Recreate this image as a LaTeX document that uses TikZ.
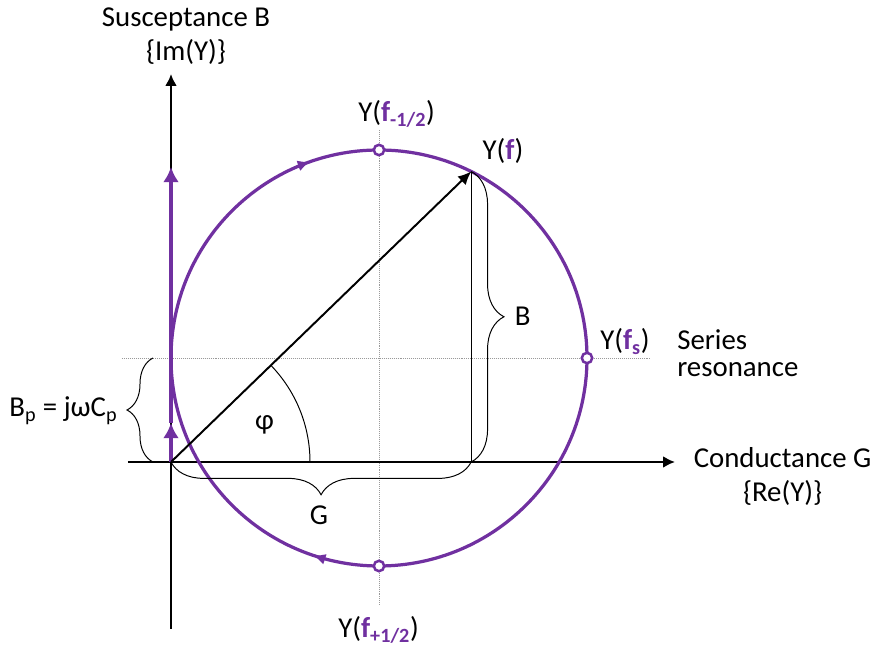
\documentclass[tikz,border=0pt]{standalone}
\usepackage{fontspec}
\setmainfont{Carlito}
\usetikzlibrary{positioning, calc, arrows.meta, decorations.pathreplacing, decorations.markings}
\definecolor{vio}{RGB}{112,48,160}

\begin{document}
\begin{tikzpicture}[
    >=Latex,
    font=\fontsize{20.5}{24.5}\selectfont,
    every node/.style={align=center, inner sep=0pt},
    axis line/.style={line width=1.6pt, -{Latex[length=0.3cm, width=0.3cm]}},
    vio line/.style={vio, line width=2.3pt},
    vio tip/.style={-{Latex[length=0.38cm, width=0.4cm]}},
    thin line/.style={line width=0.7pt},
    guide/.style={gray!80, line width=0.6pt, dash pattern=on 0.6pt off 0.8pt},
    bracket/.style={thin line, decorate, decoration={brace, amplitude=#1}},
    marker/.style={circle, draw=vio, fill=white, line width=1.8pt, minimum size=0.26cm}
]

\useasboundingbox (-4.275,-4.625) rectangle (17.625,11.55);

% =================================================
% POINTS
% =================================================

\coordinate (O) at (0,0);
\coordinate (C) at (5.2,2.6);
\coordinate (Yf) at ($(C)+(63.7:5.2)$);
\coordinate (foot) at (Yf |- O);
\coordinate (xleft) at (-1.075,0);
\coordinate (xright) at (12.6,0);
\coordinate (ybot) at (0,-4.175);
\coordinate (ytop) at (0,9.7);
\coordinate (pmid) at (0,0.975);
\coordinate (ptop) at (0,7.375);
\coordinate (hleft) at (-1.225,2.6);
\coordinate (hright) at (11.975,2.6);
\coordinate (vtop) at (5.2,8.3);
\coordinate (vbot) at (5.2,-3.6);
\coordinate (cleft) at (0,2.6);
\coordinate (phiA) at (3.475,0);
\coordinate (bpA) at (-0.45,0);
\coordinate (bpB) at (-0.45,2.6);

% =================================================
% GUIDES AND AXES
% =================================================

% Dotted guides
\draw[guide] (hleft) -- (hright);
\draw[guide] (vtop) -- (vbot);

% Axes
\draw[axis line] (xleft) -- (xright);
\draw[axis line] (ybot) -- (ytop);

% Parallel susceptance on the B axis
\draw[vio line, vio tip] (O) -- (pmid);
\draw[vio line, vio tip] (pmid) -- (ptop);

% =================================================
% ADMITTANCE CIRCLE
% =================================================

\draw[
    vio line,
    postaction={decorate},
    decoration={
        markings,
        mark=at position 0.196 with {\arrow{Latex[length=0.3cm, width=0.28cm]}},
        mark=at position 0.801 with {\arrow{Latex[length=0.3cm, width=0.28cm]}}
    }
] (cleft) arc[start angle=180, end angle=-180, radius=5.2];

% Vector and its parts
\draw[
    line width=1.4pt,
    -{Latex[length=0.33cm, width=0.3cm]}
] (O) -- (Yf);

\draw[thin line] (Yf) -- (foot);

\draw[thin line] (phiA) arc[start angle=0, end angle=44.05, radius=3.475];

% Braces
\draw[bracket=0.82cm] (Yf) -- (foot);
\draw[bracket=0.82cm] (foot) -- (O);
\draw[bracket=0.65cm] (bpA) -- (bpB);

% Markers
\node[marker] (mtop) at (5.2,7.8) {};
\node[marker] (mbot) at (5.2,-2.6) {};
\node[marker] (mres) at (10.4,2.6) {};

% =================================================
% LABELS
% =================================================

% base anchor sits on the last line
\node[anchor=base] (susc) at (0.375,10.025)
{Susceptance B\\
\{Im(Y)\}};

\node[anchor=base] (cond) at (15.29,-1.0)
{Conductance G\\
\{Re(Y)\}};

\node[
    anchor=base west,
    align=left,
    font=\fontsize{20.5}{19.2}\selectfont
] (series) at (12.65,2.125)
{Series\\
resonance};

\node[anchor=base] (lres) at (11.35,2.8)
{Y(\textcolor{vio}{\textbf{f}\textsubscript{\textbf{s}}})};

\node[anchor=base] (ltop) at (5.64,8.5)
{Y(\textcolor{vio}{\textbf{f}\textsubscript{\textbf{-1/2}}})};

\node[anchor=base] (lbot) at (5.19,-4.4)
{Y(\textcolor{vio}{\textbf{f}\textsubscript{\textbf{+1/2}}})};

\node[anchor=base] (lf) at (8.3,7.55)
{Y(\textcolor{vio}{\textbf{f}})};

\node[anchor=base] (lB) at (8.79,3.4) {B};

\node[anchor=base] (lG) at (3.7,-1.575) {G};

\node[anchor=base] (lBp) at (-2.69,1.125)
{B\textsubscript{p} = jωC\textsubscript{p}};

\node (lphi) at (2.34,0.925) {φ};

\end{tikzpicture}
\end{document}
